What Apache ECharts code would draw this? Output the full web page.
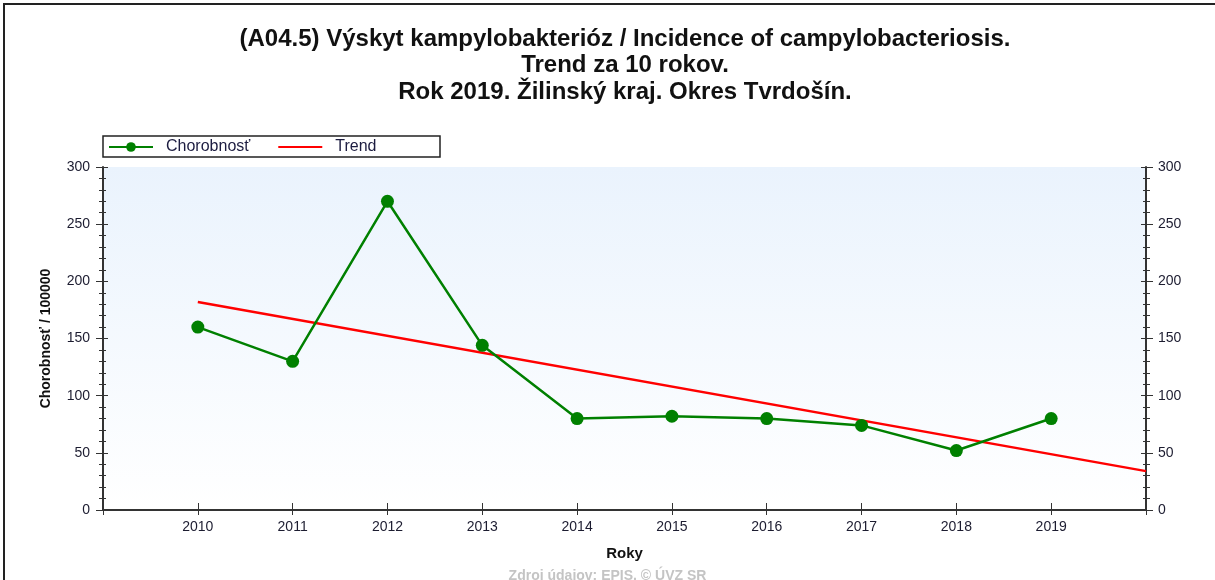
<!DOCTYPE html>
<html>
<head>
<meta charset="utf-8">
<script src="https://cdn.jsdelivr.net/npm/echarts@6/dist/echarts.min.js"></script>
<style>
  html, body { margin: 0; padding: 0; background: #fff; }
  #chart { width: 1215px; height: 580px; }
</style>
</head>
<body>
<div id="chart"></div>
<script>
// years and incidence per 100000
const years = [2010, 2011, 2012, 2013, 2014, 2015, 2016, 2017, 2018, 2019];
const incidence = [160, 130, 270, 144, 80, 82, 80, 74, 52, 80];
// trend line end points
const trendYears = [2010, 2020];
const trendValues = [182, 34];
const yTicks = [0, 50, 100, 150, 200, 250, 300];

const chart = echarts.init(document.getElementById('chart'));
const font = 'Arial, "Liberation Sans", sans-serif';
const labelColor = '#1c1c30';

const xCommon = {
  type: 'value',
  min: 2009,
  max: 2020,
  interval: 1,
  splitLine: { show: false },
  axisLine: { lineStyle: { color: '#333', width: 2 } }
};
const yCommon = {
  type: 'value',
  min: yTicks[0],
  max: yTicks[yTicks.length - 1],
  interval: 50,
  splitLine: { show: false },
  axisLine: { show: true, lineStyle: { color: '#333', width: 2 } },
  minorTick: { show: true, splitNumber: 5, length: 4, lineStyle: { color: '#333' } },
  axisTick: { show: true, length: 7, lineStyle: { color: '#333' } }
};

chart.setOption({
  animation: false,
  title: {
    text: '(A04.5) Výskyt kampylobakterióz / Incidence of campylobacteriosis.\nTrend za 10 rokov.\nRok 2019. Žilinský kraj. Okres Tvrdošín.',
    left: 620,
    textAlign: 'center',
    top: 21,
    textStyle: { fontFamily: font, fontSize: 24, fontWeight: 'bold', color: '#111', lineHeight: 26.5 }
  },
  legend: {
    left: 108,
    top: 139,
    padding: 0,
    itemGap: 27,
    itemWidth: 44,
    itemHeight: 12,
    textStyle: { fontFamily: font, fontSize: 16, color: '#1c1c40', padding: [0, 0, 0, 8] },
    data: [
      { name: 'Chorobnosť' },
      { name: 'Trend', itemStyle: { opacity: 0 } }
    ]
  },
  graphic: [
    { type: 'rect', shape: { x: 4, y: 4, width: 1300, height: 700 }, style: { fill: 'none', stroke: '#222', lineWidth: 2 }, silent: true },
    { type: 'rect', shape: { x: 103, y: 136, width: 337, height: 21 }, style: { fill: 'none', stroke: '#222', lineWidth: 1.5 }, silent: true },
    { type: 'text', left: 'center', top: 569, style: { text: 'Zdroj údajov: EPIS, © ÚVZ SR', font: 'bold 14px ' + font, fill: '#c4c4c4' } }
  ],
  grid: {
    left: 103,
    right: 69,
    top: 167,
    bottom: 70,
    show: true,
    borderWidth: 0,
    backgroundColor: {
      type: 'linear', x: 0, y: 0, x2: 0, y2: 1,
      colorStops: [{ offset: 0, color: '#eaf3fd' }, { offset: 1, color: '#ffffff' }]
    }
  },
  xAxis: [
    Object.assign({}, xCommon, {
      position: 'bottom',
      name: 'Roky',
      nameLocation: 'middle',
      nameGap: 36,
      nameTextStyle: { fontFamily: font, fontSize: 15, fontWeight: 'bold', color: '#111' },
      axisTick: { show: true, inside: true, length: 7, lineStyle: { color: '#333' } },
      axisLabel: {
        fontFamily: font, fontSize: 14, color: labelColor, margin: 10,
        formatter: v => (v >= years[0] && v <= years[years.length - 1]) ? String(v) : ''
      }
    }),
    Object.assign({}, xCommon, {
      position: 'top',
      axisTick: { show: true, inside: true, length: 5, lineStyle: { color: '#333' } },
      axisLabel: { show: false }
    })
  ],
  yAxis: [
    Object.assign({}, yCommon, {
      position: 'left',
      name: 'Chorobnosť / 100000',
      nameLocation: 'middle',
      nameGap: 50,
      nameTextStyle: { fontFamily: font, fontSize: 14, fontWeight: 'bold', color: '#111' },
      axisLabel: { fontFamily: font, fontSize: 14, color: labelColor, margin: 13 }
    }),
    Object.assign({}, yCommon, {
      position: 'right',
      axisLabel: { fontFamily: font, fontSize: 14, color: labelColor, margin: 12 }
    }),
    Object.assign({}, yCommon, {
      position: 'left',
      axisLine: { show: false },
      axisTick: { show: true, inside: true, length: 5, lineStyle: { color: '#333' } },
      minorTick: { show: true, splitNumber: 5, length: 3, lineStyle: { color: '#333' } },
      axisLabel: { show: false }
    }),
    Object.assign({}, yCommon, {
      position: 'right',
      axisLine: { show: false },
      axisTick: { show: true, inside: true, length: 5, lineStyle: { color: '#333' } },
      minorTick: { show: true, splitNumber: 5, length: 3, lineStyle: { color: '#333' } },
      axisLabel: { show: false }
    })
  ],
  series: [
    {
      name: 'Chorobnosť',
      type: 'line',
      data: years.map((y, i) => [y, incidence[i]]),
      symbol: 'circle',
      symbolSize: 13,
      itemStyle: { color: '#008000' },
      lineStyle: { color: '#008000', width: 2.5 },
      z: 3
    },
    {
      name: 'Trend',
      type: 'line',
      data: trendYears.map((y, i) => [y, trendValues[i]]),
      symbol: 'none',
      itemStyle: { color: '#ff0000' },
      lineStyle: { color: '#ff0000', width: 2.5 },
      z: 2
    }
  ]
});
</script>
</body>
</html>
